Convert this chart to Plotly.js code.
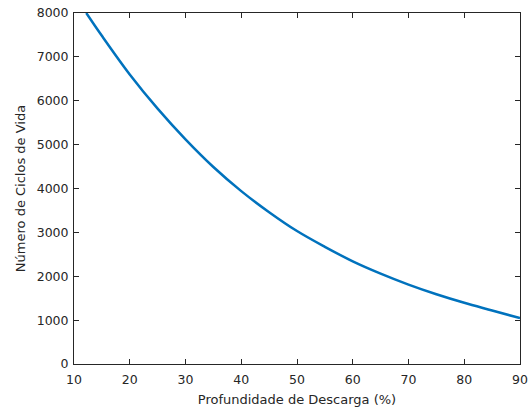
<!DOCTYPE html>
<html>
<head>
<meta charset="utf-8">
<script src="https://cdn.plot.ly/plotly-3.0.1.min.js"></script>
<style>html,body{margin:0;padding:0;background:#fff;}#chart{width:531px;height:411px;}</style>
</head>
<body>
<div id="chart"></div>
<script>
const dod = [12.2, 15, 20, 25, 30, 35, 40, 45, 50, 55, 60, 65, 70, 75, 80, 85, 90];
const ciclos = [8000, 7480, 6600, 5820, 5120, 4490, 3940, 3460, 3030, 2670, 2340, 2060, 1810, 1590, 1395, 1220, 1045];
const xTicks = [10, 20, 30, 40, 50, 60, 70, 80, 90];
const yTicks = [0, 1000, 2000, 3000, 4000, 5000, 6000, 7000, 8000];

const FONT = 'DejaVu Sans, Liberation Sans, Arial, sans-serif';
const axisCommon = {
  showline: true, linecolor: '#262626', linewidth: 1, mirror: 'ticks',
  ticks: 'inside', ticklen: 5, tickcolor: '#262626', tickwidth: 1,
  showgrid: false, zeroline: false,
  tickfont: {family: FONT, size: 12.5, color: '#262626'}
};

Plotly.newPlot('chart', [{
  x: dod, y: ciclos, type: 'scatter', mode: 'lines',
  line: {color: '#0072BD', width: 2.5, shape: 'spline', smoothing: 1}
}], {
  width: 531, height: 411,
  margin: {l: 73.5, r: 11, t: 13, b: 47},
  paper_bgcolor: '#fff', plot_bgcolor: '#fff',
  showlegend: false,
  xaxis: Object.assign({}, axisCommon, {
    range: [10, 90], tickvals: xTicks, ticklabelstandoff: 4,
    title: {text: 'Profundidade de Descarga (%)', standoff: 8,
      font: {family: FONT, size: 13, color: '#262626'}}
  }),
  yaxis: Object.assign({}, axisCommon, {
    range: [0, 8000], tickvals: yTicks, ticklabelstandoff: 2,
    title: {text: 'Número de Ciclos de Vida', standoff: 8,
      font: {family: FONT, size: 13, color: '#262626'}}
  })
}, {displayModeBar: false, staticPlot: true});
</script>
</body>
</html>
